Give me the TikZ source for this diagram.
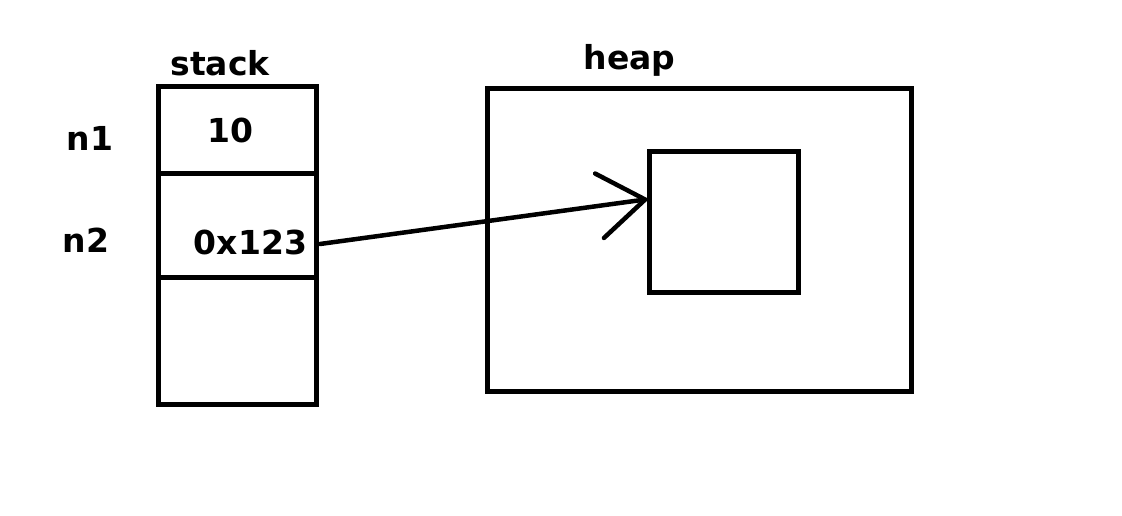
\documentclass[tikz,border=0pt]{standalone}
\usepackage{fontspec}
\setmainfont{DejaVu Sans}
\usetikzlibrary{arrows.meta,calc}
\begin{document}
\begin{tikzpicture}[x=1pt,y=1pt,
  cell/.style={draw=black,line width=5pt,minimum width=158pt,inner sep=0pt,outer sep=0pt},
  box/.style={draw=black,line width=5pt,inner sep=0pt,outer sep=0pt},
  lbl/.style={font=\bfseries\fontsize{33}{36}\selectfont,inner sep=0pt,anchor=base},
  ptr/.style={line width=4.5pt,line cap=round,-{Straight Barb[length=46pt,width=65pt,line cap=round]}}]
\useasboundingbox[fill=white] (0,0) rectangle (1122,516);
% stack cells
\node[cell,minimum height=87pt] (c1) at (237,385.5) {};
\node[cell,minimum height=104pt] (c2) at (237,290) {};
\node[cell,minimum height=127pt] (c3) at (237,174.5) {};
% heap
\node[box,minimum width=424pt,minimum height=303pt] (heap) at (699,275.5) {};
\node[box,minimum width=149pt,minimum height=141pt] (obj) at (723.5,293.5) {};
% labels
\node[lbl] (tstack) at (220,440) {stack};
\node[lbl] (theap) at (629.5,446) {heap};
\node[lbl] (tn1) at (90,365) {n1};
\node[lbl] (tn2) at (86,263) {n2};
\node[lbl] (v1) at (230,373) {10};
\node[lbl] (v2) at (250.5,261) {0x123};
% pointer
\draw[ptr] ($(c2.east)+(4,-18)$) -- ($(obj.west)+(0,23.5)$);
\end{tikzpicture}
\end{document}
